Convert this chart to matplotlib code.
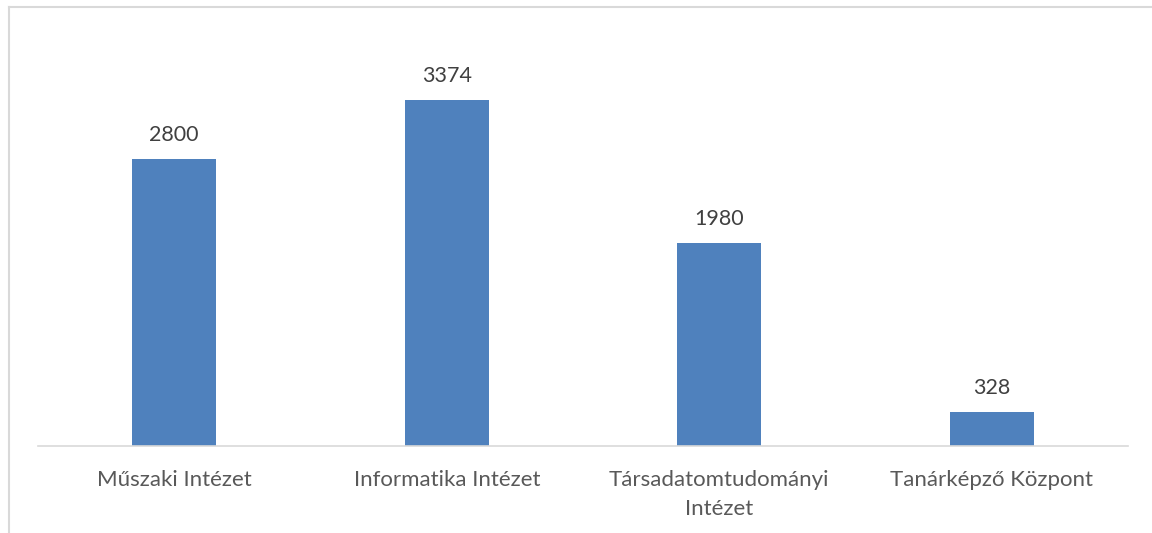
import numpy as np
import matplotlib.pyplot as plt
from matplotlib.lines import Line2D

categories = ['Műszaki Intézet', 'Informatika Intézet', 'Társadatomtudományi\nIntézet', 'Tanárképző Központ']
values = [2800, 3374, 1980, 328]

plt.rcParams['font.family'] = ['Lato', 'DejaVu Sans']

W, H = 1152, 533
fig = plt.figure(figsize=(W / 100, H / 100), dpi=100)

# chart border (cropped on right and bottom)
fig.add_artist(Line2D([8.5 / W, 8.5 / W], [0, 1 - 6.5 / H], color='#d9d9d9', lw=1.5, transform=fig.transFigure))
fig.add_artist(Line2D([8.5 / W, 1], [1 - 6.5 / H, 1 - 6.5 / H], color='#d9d9d9', lw=1.5, transform=fig.transFigure))

left, right = 38 / W, 1128 / W
bottom, top = (H - 446) / H, (H - 20) / H
ax = fig.add_axes([left, bottom, right - left, top - bottom])

x = np.arange(len(categories))
bars = ax.bar(x, values, width=0.31, color='#4f81bd')
ax.set_xlim(-0.5, len(categories) - 0.5)
ax.set_ylim(0, 4156)

for xi, v in zip(x, values):
    ax.text(xi, v + 140, str(v), ha='center', va='bottom', fontsize=15.5, color='#404040')

ax.set_xticks(x)
ax.set_xticklabels(categories, fontsize=16, color='#595959', linespacing=1.6)
ax.tick_params(axis='x', length=0, pad=17)
ax.set_yticks([])
for s in ['top', 'right', 'left']:
    ax.spines[s].set_visible(False)
ax.spines['bottom'].set_color('#d9d9d9')
ax.spines['bottom'].set_linewidth(1.2)

fig.savefig('out.png', dpi=100)
